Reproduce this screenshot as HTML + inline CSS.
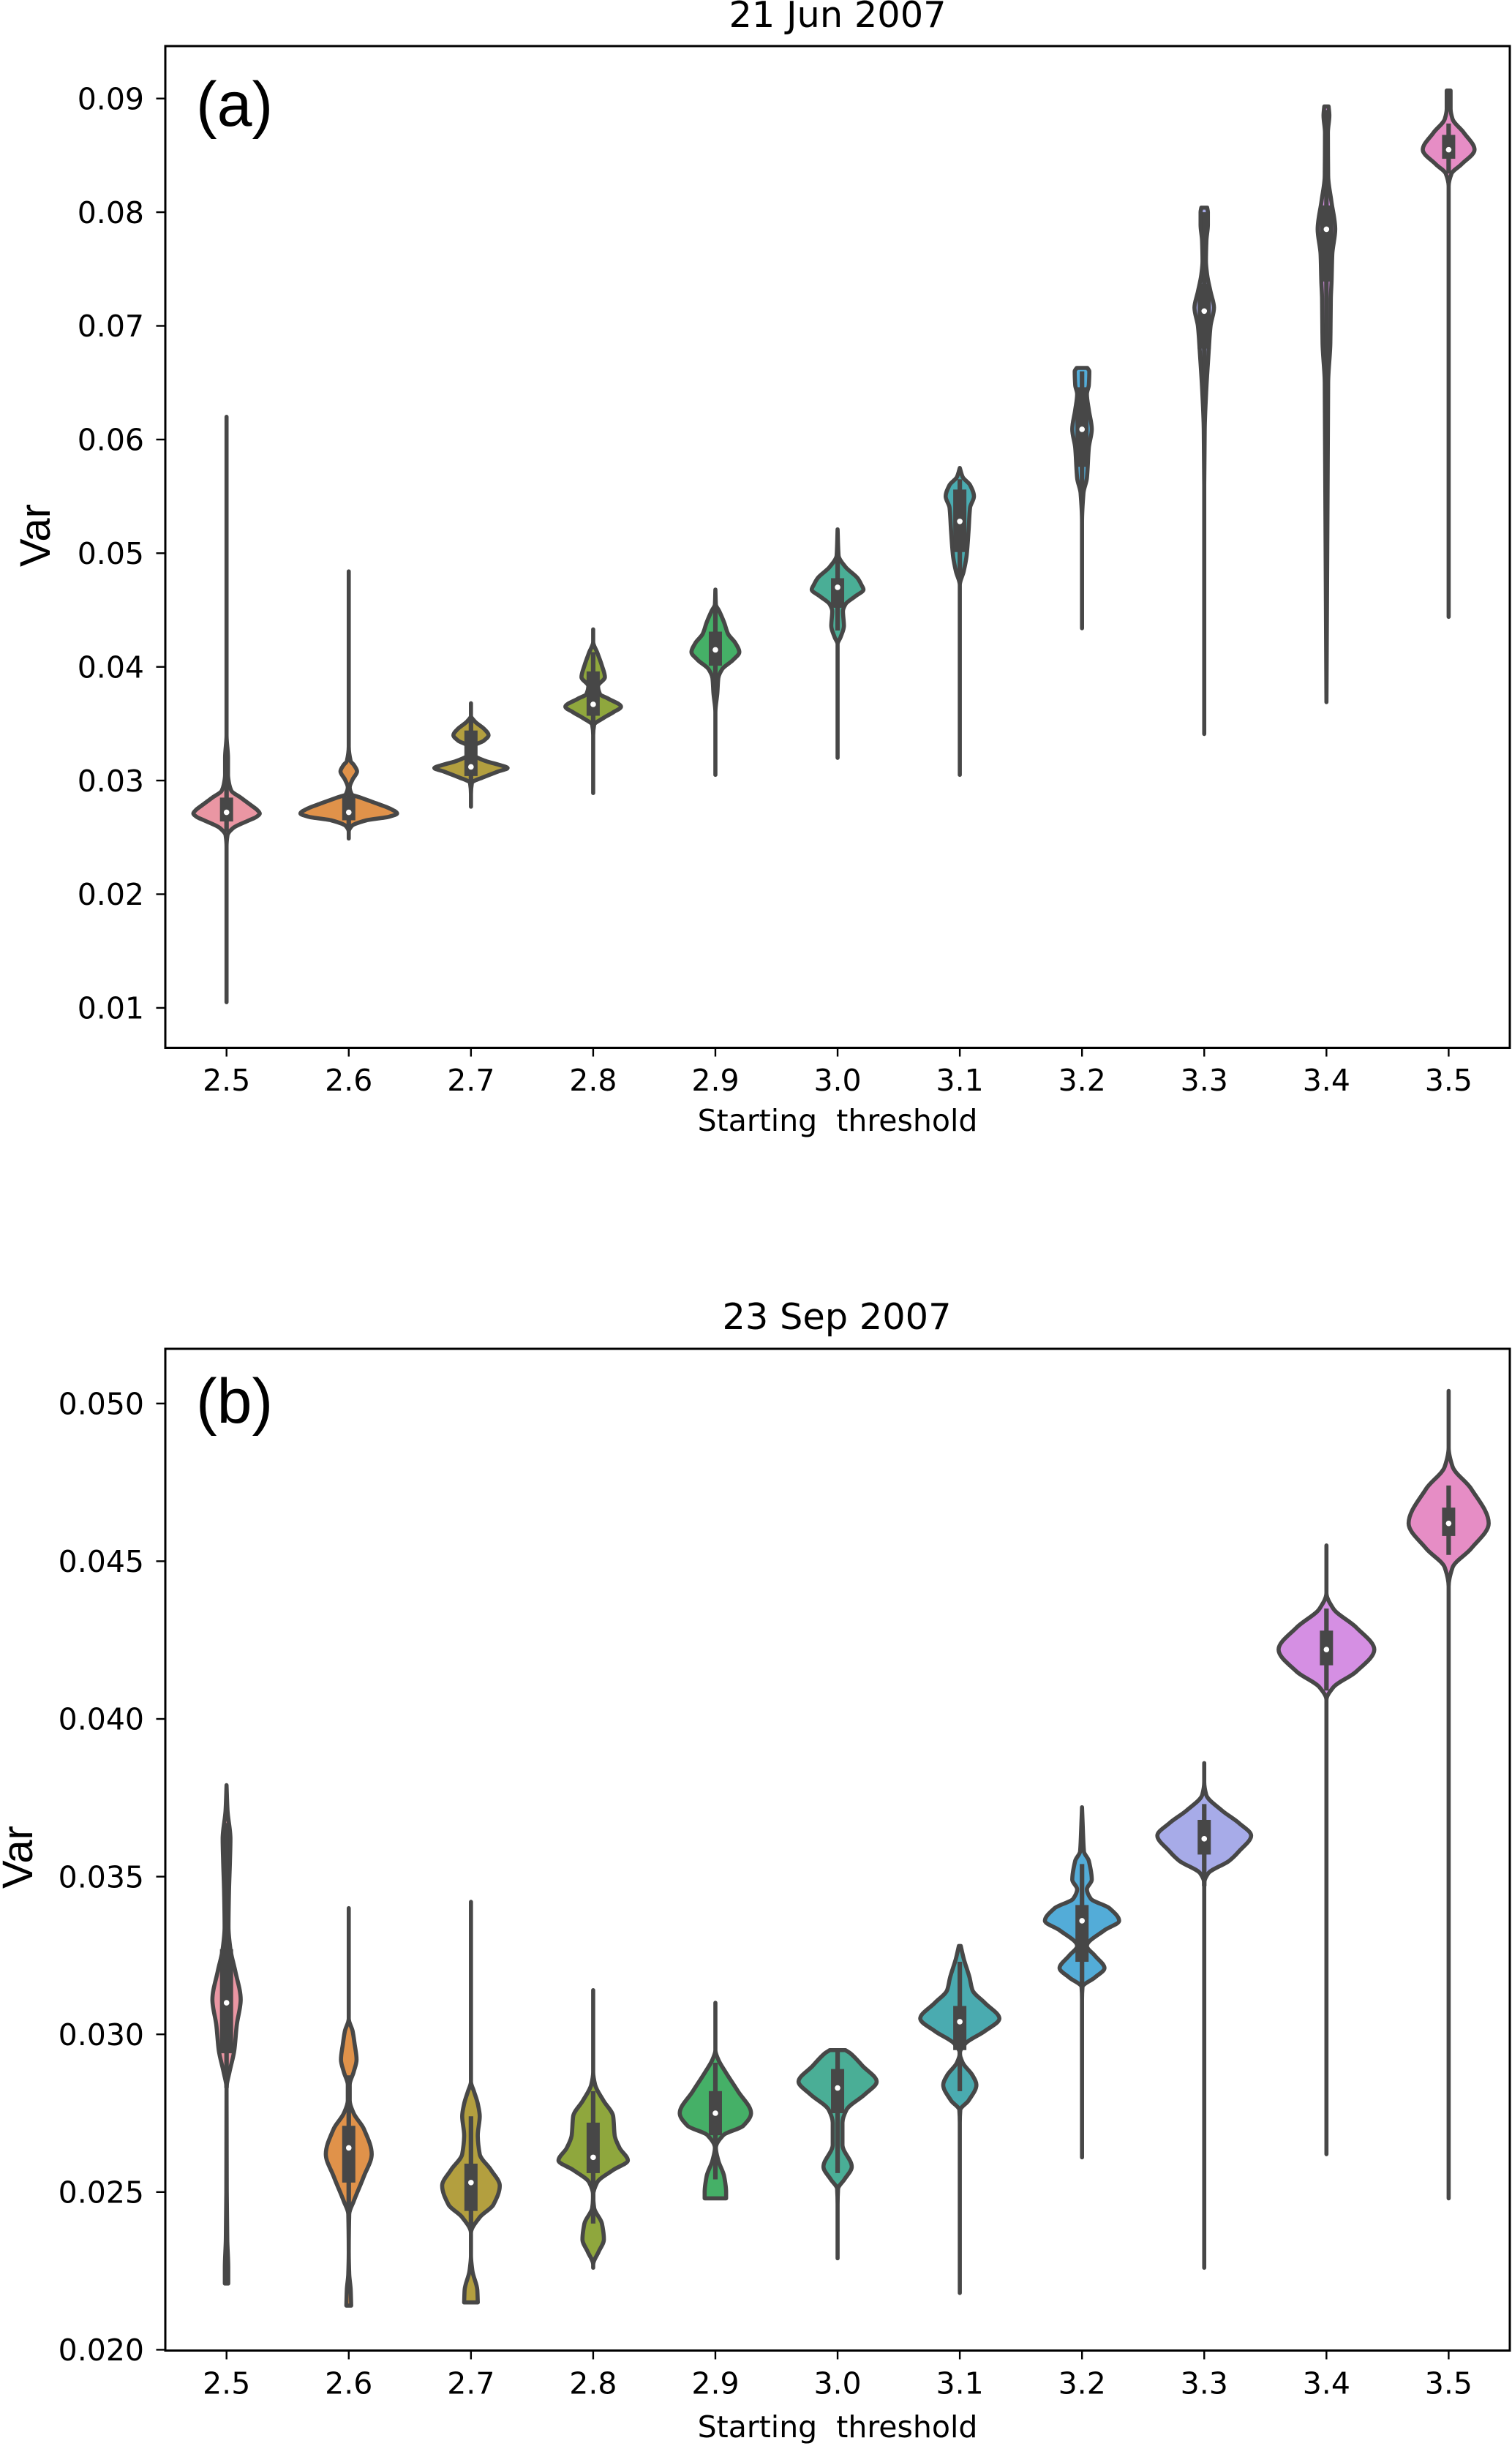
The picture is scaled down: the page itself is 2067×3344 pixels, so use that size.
<!DOCTYPE html>
<html lang="en">
<head>
<meta charset="utf-8">
<title>Starting threshold violin plots</title>
<style>
html,body{margin:0;padding:0;background:#fff;}
svg{display:block;}
.tick-label,.axis-label,.panel-title{font-family:"DejaVu Sans","Liberation Sans",sans-serif;fill:#000;}
.axis-label,.tick-label{font-size:41px;}
.panel-title{font-size:49.4px;}
.panel-tag,.y-title{font-family:"Liberation Sans",Arial,sans-serif;fill:#000;}
.panel-tag{font-size:86px;}
.y-title{font-size:58px;}
</style>
</head>
<body>
<svg id="figure" xmlns="http://www.w3.org/2000/svg" width="2067" height="3344" viewBox="0 0 2067 3344">
  <rect x="0" y="0" width="2067" height="3344" fill="#fff"/>

  <g id="panel-a">
    <text class="panel-title" x="1145" y="37" text-anchor="middle">21 Jun 2007</text>
    <g id="plot-a"></g>
    <g id="axes-a"></g>
    <rect x="226" y="63" width="1838" height="1369.5" fill="none" stroke="#000" stroke-width="3"/>
    <text class="panel-tag" x="268" y="172">(a)</text>
    <text class="y-title" transform="translate(68 732) rotate(-90)" text-anchor="middle">Var</text>
    <text class="axis-label" x="1145" y="1546" text-anchor="middle" xml:space="preserve" style="white-space:pre">Starting  threshold</text>
  </g>

  <g id="panel-b">
    <text class="panel-title" x="1144" y="1817" text-anchor="middle">23 Sep 2007</text>
    <g id="plot-b"></g>
    <g id="axes-b"></g>
    <rect x="226" y="1844" width="1838" height="1369.5" fill="none" stroke="#000" stroke-width="3"/>
    <text class="panel-tag" x="268" y="1945">(b)</text>
    <text class="y-title" transform="translate(44 2539) rotate(-90)" text-anchor="middle">Var</text>
    <text class="axis-label" x="1145" y="3332" text-anchor="middle" xml:space="preserve" style="white-space:pre">Starting  threshold</text>
  </g>
</svg>

<script>
// ---------- categories and tick labels ----------
const categories = ["2.5","2.6","2.7","2.8","2.9","3.0","3.1","3.2","3.3","3.4","3.5"];
const junTicks = [0.01,0.02,0.03,0.04,0.05,0.06,0.07,0.08,0.09];
const junTickLabels = ["0.01","0.02","0.03","0.04","0.05","0.06","0.07","0.08","0.09"];
const sepTicks = [0.020,0.025,0.030,0.035,0.040,0.045,0.050];
const sepTickLabels = ["0.020","0.025","0.030","0.035","0.040","0.045","0.050"];

// ---------- 21 Jun 2007: box statistics ----------
const junQ1 = [.0264,.0265,.0304,.0357,.0401,.0452,.0501,.0576,.0680,.0739,.0847];
const junMedian = [.0272,.0272,.0312,.0367,.0415,.0470,.0528,.0609,.0713,.0785,.0855];
const junQ3 = [.0285,.0286,.0344,.0396,.0431,.0478,.0556,.0646,.0737,.0806,.0868];
const junLow = [.0255,.0258,.0297,.0349,.0377,.0432,.0475,.0545,.0620,.0600,.0834];
const junHigh = [.0300,.0298,.0355,.0413,.0452,.0505,.0565,.0660,.0800,.0890,.0878];

// 21 Jun 2007: density profiles as [value, density]
const junProfiles = [
  [[.0620,.002],[.0400,.002],[.0340,.002],[.0320,.04],[.0305,.04],[.0298,.06],[.0291,.11],[.0285,.30],[.0278,.52],[.0274,.64],[.0271,.69],[.0268,.62],[.0265,.47],[.0258,.14],[.0252,.03],[.0242,.004],[.0105,.002]],
  [[.0484,.002],[.0330,.002],[.0317,.05],[.0314,.11],[.0308,.18],[.0301,.09],[.0294,.03],[.0288,.07],[.0285,.25],[.0280,.57],[.0275,.87],[.0271,1.0],[.0268,.82],[.0265,.37],[.0260,.07],[.0255,.01],[.0249,.002]],
  [[.0368,.004],[.0357,.01],[.0352,.09],[.0345,.29],[.0340,.37],[.0335,.27],[.0331,.09],[.0324,.03],[.0322,.07],[.0317,.32],[.0314,.57],[.0311,.76],[.0308,.57],[.0303,.27],[.0298,.03],[.0288,.004],[.0277,.002]],
  [[.0433,.002],[.0422,.01],[.0413,.09],[.0401,.19],[.0391,.25],[.0383,.11],[.0376,.15],[.0372,.32],[.0365,.58],[.0360,.42],[.0355,.22],[.0349,.03],[.0340,.01],[.0320,.004],[.0289,.002]],
  [[.0468,.004],[.0455,.02],[.0449,.09],[.0439,.19],[.0429,.27],[.0421,.42],[.0413,.50],[.0406,.37],[.0398,.15],[.0390,.07],[.0377,.05],[.0360,.01],[.0334,.004],[.0305,.002]],
  [[.0521,.002],[.0498,.03],[.0488,.17],[.0478,.42],[.0472,.50],[.0468,.54],[.0462,.37],[.0455,.17],[.0449,.12],[.0436,.14],[.0426,.07],[.0420,.01],[.0320,.002]],
  [[.0575,.002],[.0567,.07],[.0560,.22],[.0550,.30],[.0540,.22],[.0520,.19],[.0498,.15],[.0484,.09],[.0472,.01],[.0462,.004],[.0305,.002]],
  [[.0663,.12],[.0660,.16],[.0648,.15],[.0640,.11],[.0626,.15],[.0609,.21],[.0593,.15],[.0566,.11],[.0553,.04],[.0527,.004],[.0434,.002]],
  [[.0804,.07],[.0800,.085],[.0789,.085],[.0775,.055],[.0757,.045],[.0745,.07],[.0730,.14],[.0716,.21],[.0700,.14],[.0689,.118],[.0680,.105],[.0642,.05],[.0609,.02],[.0560,.004],[.0341,.002]],
  [[.0893,.055],[.0885,.07],[.0870,.04],[.0832,.045],[.0810,.11],[.0785,.19],[.0763,.13],[.0739,.115],[.0724,.10],[.0685,.09],[.0650,.045],[.0369,.002]],
  [[.0907,.05],[.0891,.05],[.0882,.09],[.0870,.32],[.0855,.54],[.0842,.27],[.0834,.07],[.0823,.01],[.0444,.002]]
];

// ---------- 23 Sep 2007: box statistics ----------
const sepQ1 = [.0294,.0253,.0244,.0256,.0268,.0275,.0295,.0323,.0357,.0417,.0458];
const sepMedian = [.0310,.0264,.0253,.0261,.0275,.0283,.0304,.0336,.0362,.0422,.0462];
const sepQ3 = [.0327,.0271,.0259,.0272,.0282,.0289,.0309,.0341,.0368,.0428,.0467];
const sepLow = [.0283,.0243,.0238,.0240,.0254,.0256,.0282,.0315,.0347,.0409,.0452];
const sepHigh = [.0367,.0287,.0274,.0282,.0291,.0295,.0323,.0354,.0373,.0435,.0474];

// 23 Sep 2007: density profiles as [value, density]
const sepProfiles = [
  [[.0379,.002],[.0371,.03],[.0362,.09],[.0355,.08],[.0345,.06],[.0334,.05],[.0327,.09],[.0320,.19],[.0311,.30],[.0303,.22],[.0295,.17],[.0288,.07],[.0283,.01],[.0272,.012],[.0250,.015],[.0235,.025],[.0226,.045],[.0221,.045]],
  [[.0340,.002],[.0305,.004],[.0301,.09],[.0297,.13],[.0292,.17],[.0288,.11],[.0284,.03],[.0279,.03],[.0275,.11],[.0270,.32],[.0262,.48],[.0255,.32],[.0247,.11],[.0243,.02],[.0231,.004],[.0224,.02],[.0219,.05],[.0214,.06]],
  [[.0342,.002],[.0285,.004],[.0282,.07],[.0278,.15],[.0274,.19],[.0268,.15],[.0262,.19],[.0257,.42],[.0252,.60],[.0246,.47],[.0242,.19],[.0237,.01],[.0230,.004],[.0225,.04],[.0219,.14],[.0215,.15]],
  [[.0314,.002],[.0288,.004],[.0284,.05],[.0279,.22],[.0274,.42],[.0268,.45],[.0264,.55],[.0260,.72],[.0257,.42],[.0253,.09],[.0249,.01],[.0245,.03],[.0240,.19],[.0235,.23],[.0231,.12],[.0227,.01],[.0226,.002]],
  [[.0310,.002],[.0295,.004],[.0292,.07],[.0288,.22],[.0282,.47],[.0275,.74],[.0271,.58],[.0268,.17],[.0264,.02],[.0260,.07],[.0255,.19],[.0250,.23],[.0248,.23]],
  [[.0295,.17],[.0294,.27],[.0290,.52],[.0285,.81],[.0281,.57],[.0276,.19],[.0272,.11],[.0265,.11],[.0258,.30],[.0254,.15],[.0251,.02],[.0246,.004],[.0229,.002]],
  [[.0328,.03],[.0324,.09],[.0318,.21],[.0314,.27],[.0310,.52],[.0305,.82],[.0301,.52],[.0297,.12],[.0294,.004],[.0291,.07],[.0287,.27],[.0284,.35],[.0279,.19],[.0276,.02],[.0272,.002],[.0218,.002]],
  [[.0372,.002],[.0364,.03],[.0358,.05],[.0355,.15],[.0349,.21],[.0346,.11],[.0343,.19],[.0340,.57],[.0336,.77],[.0333,.47],[.0328,.11],[.0325,.27],[.0321,.47],[.0318,.27],[.0315,.02],[.0311,.002],[.0261,.002]],
  [[.0386,.002],[.0380,.002],[.0376,.05],[.0371,.37],[.0367,.72],[.0363,.97],[.0358,.72],[.0355,.52],[.0351,.09],[.0348,.004],[.0226,.002]],
  [[.0455,.002],[.0440,.002],[.0435,.15],[.0429,.62],[.0422,.99],[.0415,.62],[.0410,.15],[.0406,.01],[.0262,.002]],
  [[.0504,.002],[.0486,.002],[.0480,.09],[.0473,.47],[.0462,.83],[.0454,.47],[.0448,.09],[.0442,.004],[.0248,.002]]
];

// ---------- rendering ----------
const palette = ["#ea96a3","#e0924a","#b39f3f","#8fa73d","#45b067","#4aae96","#4aabb0","#53acd8","#a7abe8","#d58fe3","#e68dc5"];
const DARK = "#474747";
const SVG_NS = "http://www.w3.org/2000/svg";

function xScale(i){ return 309.7 + 167.07 * i; }
function widthScale(d){ return Math.max(0, d * 66.8 - 0.7); }
function yScaleJun(v){ return 134.7 + (0.09 - v) * 15540; }
function yScaleSep(v){ return 3212.4 - (v - 0.02) * 43120; }

function make(tag, attrs, parent){
  const el = document.createElementNS(SVG_NS, tag);
  for (const k in attrs) el.setAttribute(k, attrs[k]);
  parent.appendChild(el);
  return el;
}

// Monotone cubic slopes of x as a function of y (keeps lobes from overshooting)
function slopes(pts){
  const n = pts.length, dy = [], m = [], t = new Array(n);
  for (let i = 0; i < n - 1; i++){
    dy[i] = pts[i+1][1] - pts[i][1];
    m[i] = (pts[i+1][0] - pts[i][0]) / dy[i];
  }
  t[0] = m[0];
  t[n-1] = m[n-2];
  for (let i = 1; i < n - 1; i++){
    if (m[i-1] * m[i] <= 0) t[i] = 0;
    else t[i] = 2 * m[i-1] * m[i] / (m[i-1] + m[i]);
  }
  return {t, dy};
}

function violinPath(profile, cx, yScale){
  const pts = profile.map(function(p){ return [widthScale(p[1]), yScale(p[0])]; });
  const s = slopes(pts);
  let right = "M" + (cx + pts[0][0]).toFixed(2) + " " + pts[0][1].toFixed(2);
  for (let i = 0; i < pts.length - 1; i++){
    const h = s.dy[i] / 3;
    right += "C" + (cx + pts[i][0] + s.t[i] * h).toFixed(2) + " " + (pts[i][1] + h).toFixed(2) + " " +
      (cx + pts[i+1][0] - s.t[i+1] * h).toFixed(2) + " " + (pts[i+1][1] - h).toFixed(2) + " " +
      (cx + pts[i+1][0]).toFixed(2) + " " + pts[i+1][1].toFixed(2);
  }
  const last = pts[pts.length - 1];
  right += "L" + (cx - last[0]).toFixed(2) + " " + last[1].toFixed(2);
  for (let i = pts.length - 2; i >= 0; i--){
    const h = s.dy[i] / 3;
    right += "C" + (cx - pts[i+1][0] + s.t[i+1] * h).toFixed(2) + " " + (pts[i+1][1] - h).toFixed(2) + " " +
      (cx - pts[i][0] - s.t[i] * h).toFixed(2) + " " + (pts[i][1] + h).toFixed(2) + " " +
      (cx - pts[i][0]).toFixed(2) + " " + pts[i][1].toFixed(2);
  }
  return right + "Z";
}

function drawViolins(group, prefix, profiles, q1, med, q3, low, high, yScale){
  categories.forEach(function(cat, i){
    const cx = xScale(i);
    const g = make("g", {}, group);
    
    

    const body = make("path", {
      d: violinPath(profiles[i], cx, yScale),
      fill: palette[i], stroke: DARK, "stroke-width": 5.6, "stroke-linejoin": "round"
    }, g);
    
    

    const whisker = make("line", {
      x1: cx, x2: cx, y1: yScale(high[i]), y2: yScale(low[i]),
      stroke: DARK, "stroke-width": 6.2
    }, g);
    
    

    const box = make("rect", {
      x: cx - 9, width: 18, y: yScale(q3[i]), height: yScale(q1[i]) - yScale(q3[i]),
      fill: DARK
    }, g);
    
    

    const dot = make("circle", {cx: cx, cy: yScale(med[i]), r: 3.8, fill: "#fff"}, g);
    
    
  });
}

function drawAxes(group, prefix, ticks, labels, yScale, bottom, xLabelY){
  ticks.forEach(function(v, i){
    const y = yScale(v);
    const tick = make("line", {x1: 213.5, x2: 226, y1: y, y2: y, stroke: "#000", "stroke-width": 2.4}, group);
    
    
    const txt = make("text", {class: "tick-label", x: 197, y: y + 14.7, "text-anchor": "end"}, group);
    txt.textContent = labels[i];
    
    
  });
  categories.forEach(function(cat, i){
    const x = xScale(i);
    const tick = make("line", {x1: x, x2: x, y1: bottom, y2: bottom + 12, stroke: "#000", "stroke-width": 2.4}, group);
    
    
    const txt = make("text", {class: "tick-label", x: x, y: xLabelY, "text-anchor": "middle"}, group);
    txt.textContent = cat;
    
    
  });
}

drawViolins(document.getElementById("plot-a"), "panel-a", junProfiles, junQ1, junMedian, junQ3, junLow, junHigh, yScaleJun);
drawAxes(document.getElementById("axes-a"), "panel-a", junTicks, junTickLabels, yScaleJun, 1432.5, 1491);
drawViolins(document.getElementById("plot-b"), "panel-b", sepProfiles, sepQ1, sepMedian, sepQ3, sepLow, sepHigh, yScaleSep);
drawAxes(document.getElementById("axes-b"), "panel-b", sepTicks, sepTickLabels, yScaleSep, 3213.5, 3272.6);
</script>
</body>
</html>
